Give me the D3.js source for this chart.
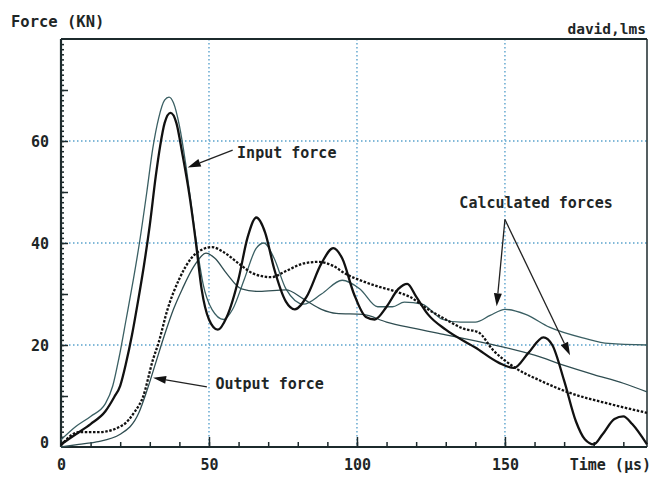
<!DOCTYPE html>
<html>
<head>
<meta charset="utf-8">
<script src="https://cdn.jsdelivr.net/npm/d3@7"></script>
<style>
  body { margin: 0; background: #fff; }
  svg text { font-family: "DejaVu Sans Mono", "Liberation Mono", monospace; font-weight: bold; fill: #1e2626; }
</style>
</head>
<body>
<div id="chart"></div>
<script>
// values: [time (µs), force (kN)]
const inputMeasured = [[0,0.5],[5,2.5],[10,4.5],[15,7],[18,9.8],[20,12],[22,16.5],[24,22],[26,28.5],[28,35.5],[30,43.5],[32,53],[33.5,59],[35,63.5],[37,65.5],[39,63.5],[41,57.5],[43.5,49],[45.6,40],[47.5,31],[50,25],[53,23],[56,25.5],[60,33],[63,41],[66,45],[69,42],[72,35],[76,28.5],[79,27],[83,29.5],[88,36],[92,39],[95,37],[99,30],[103,25.5],[106,25],[110,27.5],[114,31],[117,32],[120,29.5],[124,26],[130,23],[140,19.5],[148,16.5],[153,15.5],[158,18.5],[163,21.5],[166,20],[170,13],[174,5],[177,1.5],[180,0.5],[183,2.5],[187,5.5],[190,6],[193,4.5],[198,0.5]];
const inputCalculated = [[0,1.4],[5,4],[10,6],[15,8.5],[17.5,12],[19.6,17.5],[22,25],[24.5,33],[26.5,40],[29,50],[31,58.5],[33,64.5],[35,68],[36.5,68.6],[38,67.5],[40,63],[42,56],[44,47.5],[46,39],[48,32],[51,27],[55,25],[58,27],[62,33],[66,39],[68.6,40],[72,37],[76,31],[82,28],[88,30],[95,32.7],[101,31],[107,27.5],[112,27.5],[116,28.4],[122,28],[129,25],[135,24.5],[140,24.5],[145,25.8],[150,27],[157,26],[165,23.5],[177,21.3],[185,20.3],[198,20]];
const outputMeasured = [[0,0.3],[6,2.9],[12.8,2.9],[20.9,4.3],[25,7],[27.7,9.8],[31,17],[33,20.5],[36,27],[40,33],[44,37],[48,38.8],[51,39.2],[55,38.2],[60,36],[65,34],[71,33.3],[76,34.5],[82,36],[87,36.3],[92,35.5],[96,34],[102,32.5],[107,31.5],[113,30.5],[118,29.4],[124,27],[130,25],[136,23.2],[141,22.5],[146,19],[153,15.7],[162,13],[172,10.6],[185,8.5],[198,6.7]];
const outputCalculated = [[0,0],[6,0.5],[12,1],[20,2.5],[26.3,6.7],[29,11],[32,16.5],[35,22],[38,27],[41,31],[45,35.5],[49,38],[52,37],[56,34],[61,31],[67,30.5],[76,30.8],[82,29],[88,27],[93,26.2],[102,26],[110,24.5],[119,23.3],[130,22],[140,20.8],[148,19.8],[160,18],[170,16],[180,14.2],[190,12.5],[198,10.8]];

const xTickLabels = [0, 50, 100, 150];
const yTickLabels = [0, 20, 40, 60];
const xGrid = [50, 100, 150];
const yGrid = [20, 40, 60];

// annotations: label, text anchor point, arrow start, arrow tips (data units)
const annotations = [
  {text: "Input force", at: [59.5, 56.6], from: [58, 58.2], to: [[42.8, 54.8]]},
  {text: "Output force", at: [52.2, 11.4], from: [49.3, 11.8], to: [[31.1, 13.6]]},
  {text: "Calculated forces", at: [134.6, 46.8], from: [150, 44.6], to: [[147.2, 27.6], [172, 18]]}
];

const W = 653, H = 479;
const margin = {top: 39, right: 6, bottom: 32, left: 61};

const svg = d3.select("#chart").append("svg")
  .attr("width", W).attr("height", H);

const x = d3.scaleLinear().domain([0, 198]).range([margin.left, W - margin.right]);
const y = d3.scaleLinear().domain([0, 80]).range([H - margin.bottom, margin.top]);

// grid
svg.append("g").selectAll("line").data(xGrid).enter().append("line")
  .attr("x1", d => x(d)).attr("x2", d => x(d))
  .attr("y1", y(80)).attr("y2", y(0))
  .attr("stroke", "#5aa2cc").attr("stroke-width", 1.4).attr("stroke-dasharray", "1.5,2.5");
svg.append("g").selectAll("line").data(yGrid).enter().append("line")
  .attr("x1", x(0)).attr("x2", x(198))
  .attr("y1", d => y(d)).attr("y2", d => y(d))
  .attr("stroke", "#5aa2cc").attr("stroke-width", 1.4).attr("stroke-dasharray", "1.5,2.5");

// axes ticks (pointing inside)
const axisColor = "#1c2a2c";
function styleAxis(g) {
  g.select(".domain").remove();
  g.selectAll("line").attr("stroke", axisColor).attr("stroke-width", 1.5);
  g.selectAll("text").remove();
}
svg.append("g").attr("transform", `translate(${x(0)},0)`)
  .call(d3.axisRight(y).tickValues(d3.range(1, 80)).tickSize(3)).call(styleAxis);
svg.append("g").attr("transform", `translate(${x(0)},0)`)
  .call(d3.axisRight(y).tickValues(d3.range(10, 80, 10)).tickSize(7)).call(styleAxis);
svg.append("g").attr("transform", `translate(0,${y(0)})`)
  .call(d3.axisTop(x).tickValues(d3.range(10, 198, 10)).tickSize(5)).call(styleAxis);
svg.append("g").attr("transform", `translate(0,${y(0)})`)
  .call(d3.axisTop(x).tickValues(xGrid).tickSize(10)).call(styleAxis);

// tick labels
const yLab = svg.append("g").attr("transform", `translate(${x(0) - 12},0)`)
  .call(d3.axisLeft(y).tickValues(yTickLabels).tickSize(0).tickPadding(0));
yLab.select(".domain").remove();
yLab.selectAll("text").attr("font-size", 15).attr("font-family", null).attr("dy", "0.35em");
yLab.selectAll(".tick").filter(d => d === 0).select("text").attr("dy", "0");

const xLab = svg.append("g").attr("transform", `translate(0,${y(0) + 12})`)
  .call(d3.axisBottom(x).tickValues(xTickLabels).tickSize(0).tickPadding(0));
xLab.select(".domain").remove();
xLab.selectAll("text").attr("font-size", 15).attr("font-family", null);

// frame
svg.append("line").attr("x1", x(0)).attr("x2", x(198)).attr("y1", y(80)).attr("y2", y(80))
  .attr("stroke", axisColor).attr("stroke-width", 2.2);
svg.append("line").attr("x1", x(198)).attr("x2", x(198)).attr("y1", y(80)).attr("y2", y(0))
  .attr("stroke", axisColor).attr("stroke-width", 1.5);
svg.append("line").attr("x1", x(0)).attr("x2", x(0)).attr("y1", y(80)).attr("y2", y(0))
  .attr("stroke", axisColor).attr("stroke-width", 2.2);
svg.append("line").attr("x1", x(0)).attr("x2", x(198)).attr("y1", y(0)).attr("y2", y(0))
  .attr("stroke", axisColor).attr("stroke-width", 2.2);

// curves
const line = d3.line().x(d => x(d[0])).y(d => y(d[1])).curve(d3.curveMonotoneX);
const series = [
  {data: inputCalculated, color: "#3a5f63", width: 1.3, dash: null},
  {data: outputCalculated, color: "#2f4d51", width: 1.3, dash: null},
  {data: outputMeasured, color: "#111", width: 2.3, dash: "2.5,1.6"},
  {data: inputMeasured, color: "#111", width: 2.3, dash: null}
];
svg.append("g").selectAll("path").data(series).enter().append("path")
  .attr("d", d => line(d.data))
  .attr("fill", "none")
  .attr("stroke", d => d.color)
  .attr("stroke-width", d => d.width)
  .attr("stroke-dasharray", d => d.dash)
  .attr("stroke-linejoin", "round");

// annotations with arrows
annotations.forEach(a => {
  svg.append("text").attr("x", x(a.at[0])).attr("y", y(a.at[1]))
    .attr("font-size", 15).text(a.text);
  a.to.forEach(t => {
    const x0 = x(a.from[0]), y0 = y(a.from[1]), x1 = x(t[0]), y1 = y(t[1]);
    const ang = Math.atan2(y1 - y0, x1 - x0);
    const L = 13, Wd = 4;
    const bx = x1 - L * Math.cos(ang), by = y1 - L * Math.sin(ang);
    svg.append("line").attr("x1", x0).attr("y1", y0).attr("x2", bx).attr("y2", by)
      .attr("stroke", "#222").attr("stroke-width", 1.3);
    const pts = [[x1, y1],
      [bx + Wd * Math.sin(ang), by - Wd * Math.cos(ang)],
      [bx - Wd * Math.sin(ang), by + Wd * Math.cos(ang)]];
    svg.append("polygon").attr("points", pts.map(p => p.join(",")).join(" ")).attr("fill", "#111");
  });
});

// titles
svg.append("text").attr("x", 11).attr("y", 27).attr("font-size", 15.5).text("Force (KN)");
svg.append("text").attr("x", 646).attr("y", 34).attr("font-size", 14.5).attr("text-anchor", "end").text("david,lms");
svg.append("text").attr("x", 651).attr("y", y(0) + 12).attr("dy", "0.71em").attr("font-size", 15)
  .attr("text-anchor", "end").text("Time (µs)");
</script>
</body>
</html>
